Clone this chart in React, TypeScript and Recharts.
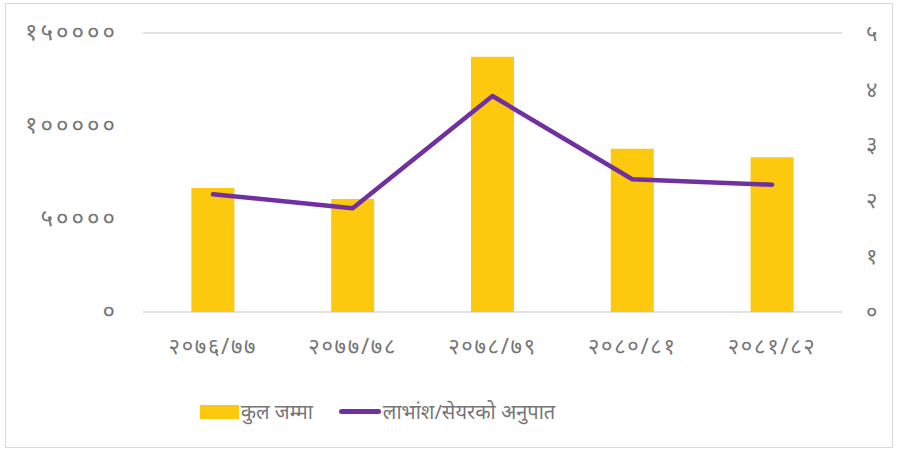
import React from "react";
import {
  ComposedChart,
  Bar,
  Line,
  XAxis,
  YAxis,
  CartesianGrid,
  Legend,
} from "recharts";

// आर्थिक वर्षहरू
const years = ["२०७६/७७", "२०७७/७८", "२०७८/७९", "२०८०/८१", "२०८१/८२"];
// कुल जम्मा (बायाँ अक्ष)
const totals = [66700, 60750, 137200, 87800, 83200];
// लाभांश/सेयरको अनुपात (दायाँ अक्ष)
const ratios = [2.11, 1.86, 3.87, 2.38, 2.28];

const leftTicks = [0, 50000, 100000, 150000];
const rightTicks = [0, 1, 2, 3, 4, 5];

const barName = "कुल जम्मा";
const lineName = "लाभांश/सेयरको अनुपात";

const devDigits = "०१२३४५६७८९";
const toDev = (v: number | string) =>
  String(v).replace(/[0-9]/g, (d) => devDigits[Number(d)]);

const data = years.map((y, i) => ({ year: y, total: totals[i], ratio: ratios[i] }));

const textColor = "#767676";
const font = "'Noto Sans', sans-serif";

function LegendBox() {
  return (
    <div
      style={{
        height: 59,
        display: "flex",
        justifyContent: "center",
        alignItems: "flex-start",
        paddingRight: 143,
        fontFamily: font,
        fontSize: 20,
        color: textColor,
      }}
    >
      <div style={{ display: "flex", alignItems: "center", marginTop: 6 }}>
        <span style={{ width: 39, height: 14, background: "#FDC90F", display: "inline-block" }} />
        <span style={{ marginLeft: 2 }}>{barName}</span>
      </div>
      <div style={{ display: "flex", alignItems: "center", marginTop: 6, marginLeft: 26 }}>
        <span style={{ width: 42, height: 5, borderRadius: 3, background: "#7030A0", display: "inline-block" }} />
        <span style={{ marginLeft: 2 }}>{lineName}</span>
      </div>
    </div>
  );
}

export default function App() {
  return (
    <div style={{ position: "absolute", left: 0, top: 0, width: 898, height: 451, background: "#fff" }}>
      <div
        style={{
          position: "absolute",
          left: 5,
          top: 3,
          width: 886,
          height: 443,
          border: "1px solid #d9d9d9",
        }}
      />
      <ComposedChart
        width={898}
        height={451}
        data={data}
        margin={{ top: 33, right: 0, left: 0, bottom: 0 }}
        barCategoryGap="34.6%"
        style={{ position: "absolute", left: 0, top: 0 }}
      >
        <CartesianGrid vertical={false} stroke="#d9d9d9" strokeWidth={1.5} />
        <XAxis
          dataKey="year"
          height={80}
          axisLine={false}
          tickLine={false}
          tickSize={0}
          tickMargin={26}
          tick={{ fill: textColor, fontSize: 22, fontFamily: font, letterSpacing: 1.7 }}
        />
        <YAxis
          yAxisId="left"
          width={143}
          domain={[0, 150000]}
          ticks={leftTicks}
          axisLine={false}
          tickLine={false}
          tickSize={0}
          tickMargin={25}
          tickFormatter={toDev}
          tick={{ fill: textColor, fontSize: 24, fontFamily: font, letterSpacing: 3, dy: -2 }}
        />
        <YAxis
          yAxisId="right"
          orientation="right"
          width={56}
          domain={[0, 5]}
          ticks={rightTicks}
          axisLine={false}
          tickLine={false}
          tickSize={0}
          tickMargin={24}
          tickFormatter={toDev}
          tick={{ fill: textColor, fontSize: 22, fontFamily: font, textAnchor: "start" }}
        />
        <Legend verticalAlign="bottom" content={() => <LegendBox />} />
        <Bar yAxisId="left" dataKey="total" name={barName} fill="#FDC90F" isAnimationActive={false} />
        <Line
          yAxisId="right"
          type="linear"
          dataKey="ratio"
          name={lineName}
          stroke="#7030A0"
          strokeWidth={4.5}
          strokeLinecap="round"
          strokeLinejoin="round"
          dot={false}
          activeDot={false}
          isAnimationActive={false}
        />
      </ComposedChart>
    </div>
  );
}
